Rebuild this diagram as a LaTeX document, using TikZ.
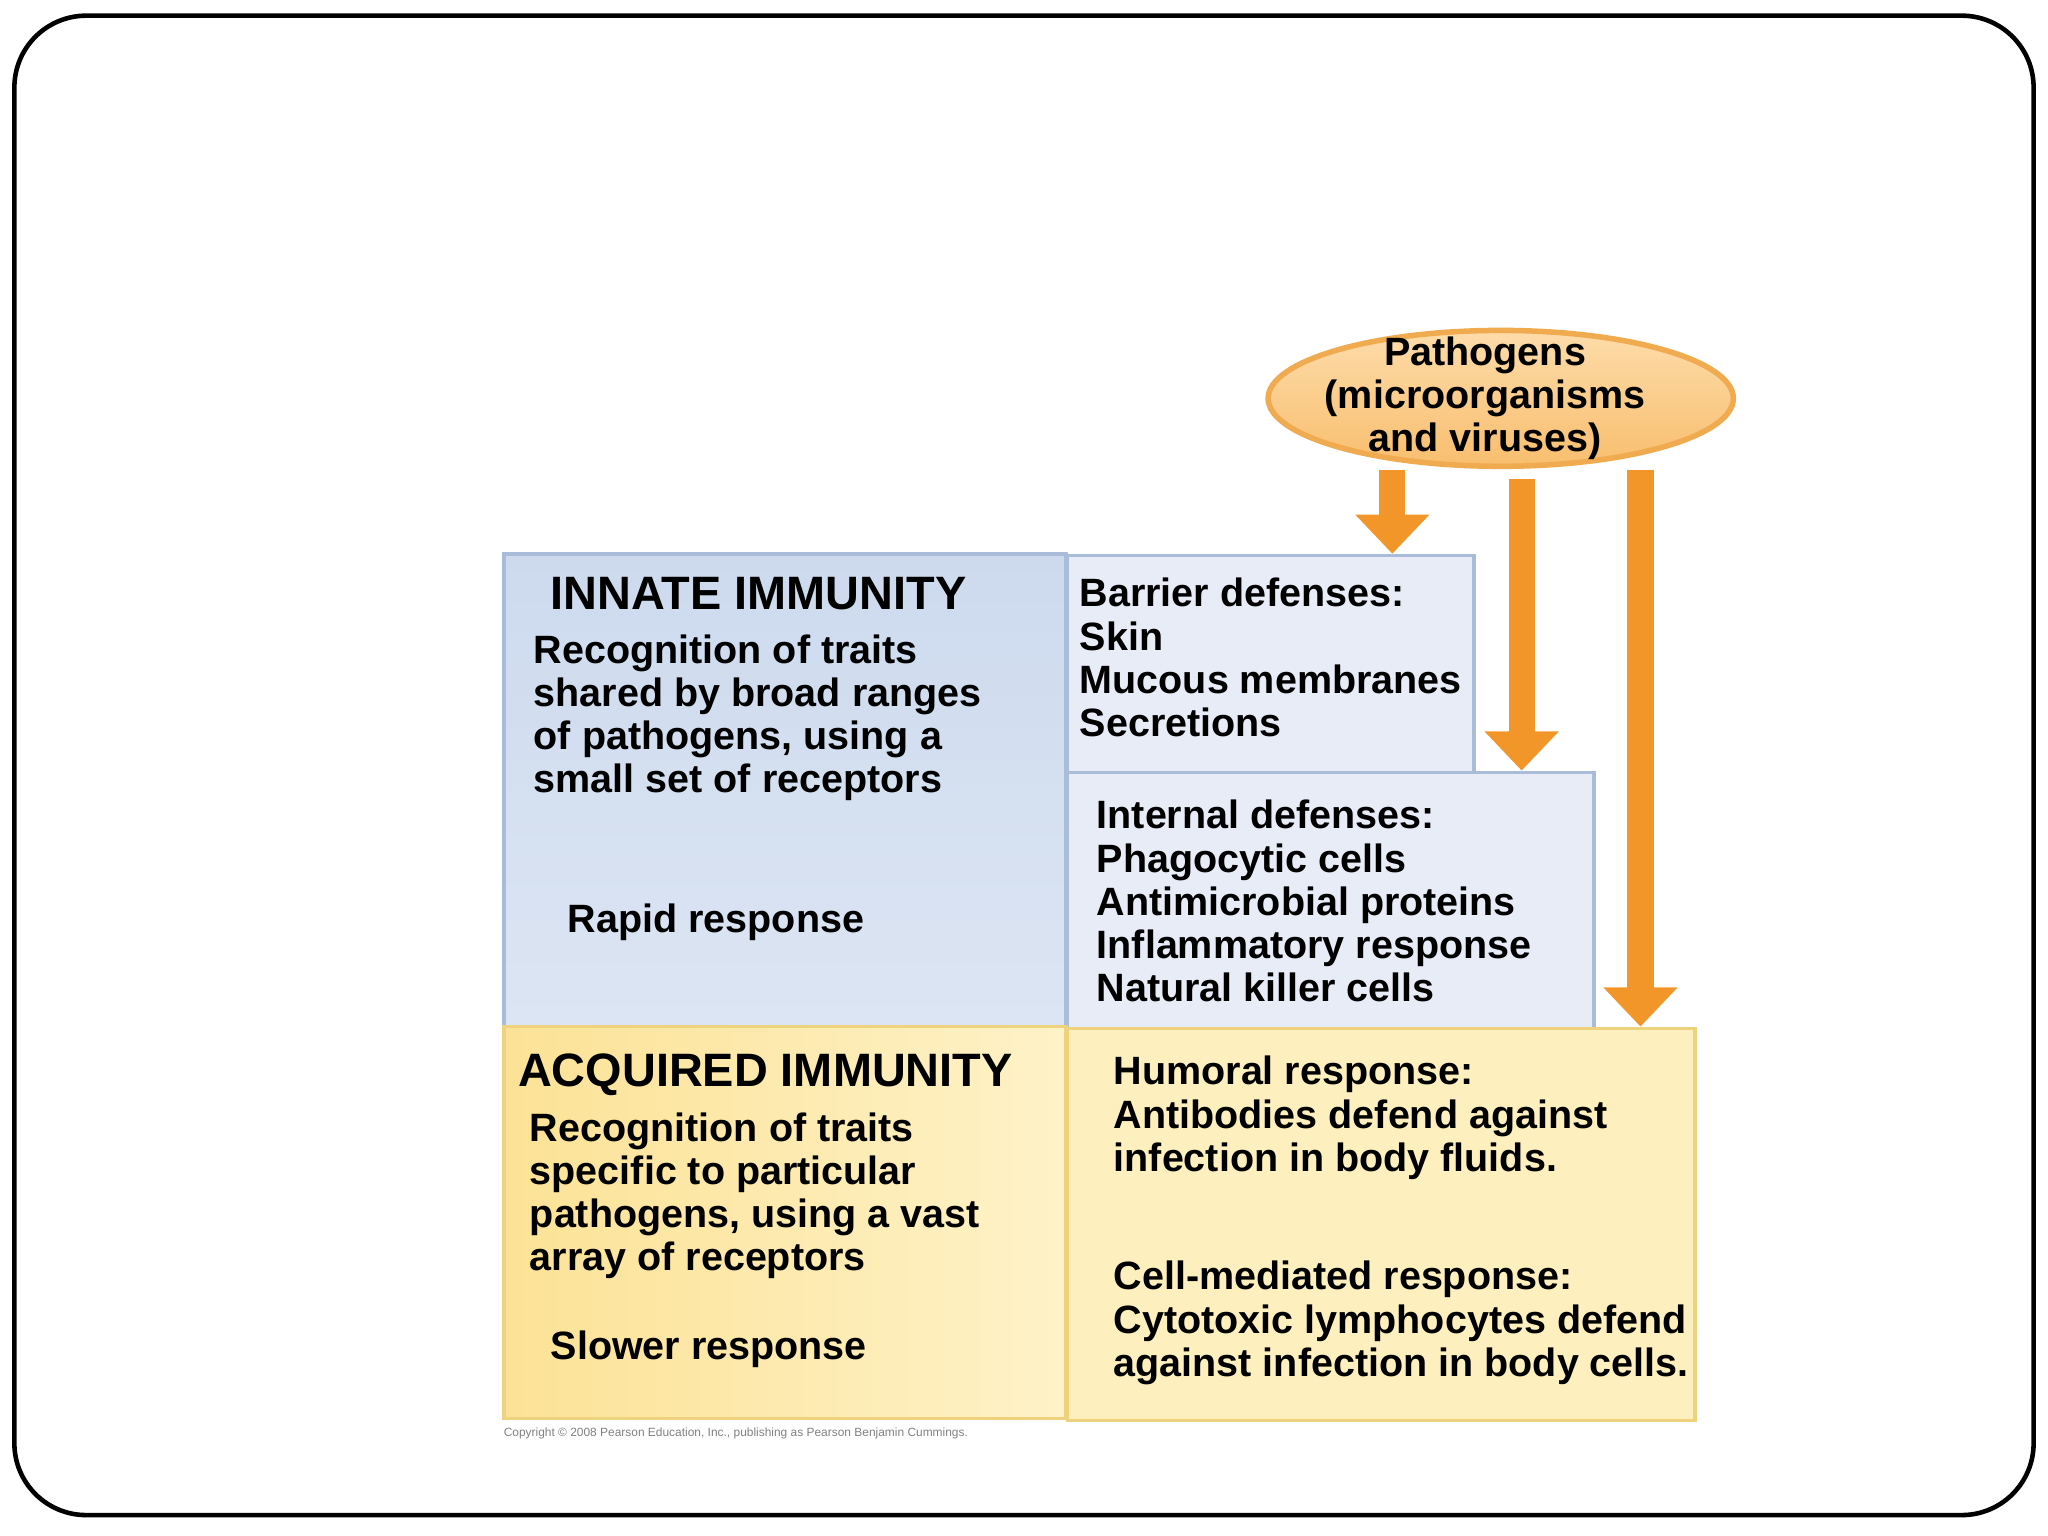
\documentclass[tikz,border=0pt]{standalone}
\usepackage{fontspec}
\setmainfont{Liberation Sans}
\usetikzlibrary{arrows.meta,shapes.geometric}
\definecolor{bluebd}{HTML}{A9BCDA}
\definecolor{yelbd}{HTML}{EED27E}
\definecolor{arr}{HTML}{F2962A}
\begin{document}
\begin{tikzpicture}[x=0.01cm,y=-0.01cm,
  txt/.style={anchor=north west,inner sep=0pt,align=left,font=\bfseries\fontsize{8.6}{9.4}\selectfont},
  head/.style={anchor=north west,inner sep=0pt,font=\bfseries\fontsize{10.2}{11}\selectfont},
  box/.style={draw=#1,line width=0.8pt},
  parr/.style={arr,line width=0.2cm,-{Triangle[width=0.55cm,length=0.3cm]}}]
\useasboundingbox (0,0) rectangle (1568,1176);
\draw[line width=1pt,rounded corners=0.55cm] (11,12) rectangle (1557,1160);
% boxes
\path[box=bluebd,top color={rgb,255:red,205;green,218;blue,238},bottom color={rgb,255:red,220;green,229;blue,243}] (386,424) rectangle (816,786) coordinate (innBR);
\node[box=bluebd,fill={rgb,255:red,232;green,236;blue,247},minimum width=3.11cm,minimum height=1.66cm,anchor=north west,inner sep=0] (bar) at (816,424) {};
\node[box=bluebd,fill={rgb,255:red,232;green,236;blue,247},minimum width=4.03cm,minimum height=1.96cm,anchor=north west,inner sep=0] (int) at (816,590) {};
\path[box=yelbd,left color={rgb,255:red,252;green,226;blue,150},right color={rgb,255:red,254;green,242;blue,200}] (386,786) rectangle (816,1086);
\node[box=yelbd,fill={rgb,255:red,254;green,240;blue,190},minimum width=4.8cm,minimum height=3.0cm,anchor=north west,inner sep=0] (hum) at (816,786) {};
% ellipse
\node[ellipse,draw={rgb,255:red,240;green,170;blue,80},line width=1.2pt,top color={rgb,255:red,253;green,220;blue,170},bottom color={rgb,255:red,248;green,190;blue,110},minimum width=3.56cm,minimum height=1.04cm,inner sep=0] (pat) at (1149,305) {};
\node[font=\bfseries\fontsize{8.6}{9.4}\selectfont,align=center,inner sep=0] at (1137,305) {Pathogens\\(microorganisms\\and viruses)};
% arrows
\coordinate (a1) at (1066,360);
\coordinate (a2) at (1165,367);
\coordinate (a3) at (1256,360);
\draw[parr] (a1) -- (a1 |- bar.north);
\draw[parr] (a2) -- (a2 |- int.north);
\draw[parr] (a3) -- (a3 |- hum.north);
% texts
\node[head] at (421,441) {INNATE IMMUNITY};
\node[txt] at (408,485) {Recognition of traits\\shared by broad ranges\\of pathogens, using a\\small set of receptors};
\node[txt] at (434,691) {Rapid response};
\node[txt] at (826,442) {Barrier defenses:\\Skin\\Mucous membranes\\Secretions};
\node[txt] at (839,612) {Internal defenses:\\Phagocytic cells\\Antimicrobial proteins\\Inflammatory response\\Natural killer cells};
\node[head] at (396,806) {ACQUIRED IMMUNITY};
\node[txt] at (405,851) {Recognition of traits\\specific to particular\\pathogens, using a vast\\array of receptors};
\node[txt] at (421,1018) {Slower response};
\node[txt] at (852,808) {Humoral response:\\Antibodies defend against\\infection in body fluids.};
\node[txt] at (852,965) {Cell-mediated response:\\Cytotoxic lymphocytes defend\\against infection in body cells.};
\node[anchor=base west,inner sep=0,text=gray,font=\fontsize{2.6}{3}\selectfont] at (385,1100) {Copyright © 2008 Pearson Education, Inc., publishing as Pearson Benjamin Cummings.};
\end{tikzpicture}
\end{document}
